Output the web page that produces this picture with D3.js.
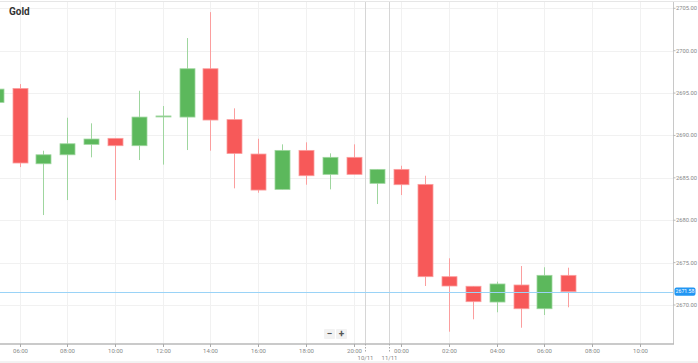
<!DOCTYPE html>
<meta charset="utf-8">
<style>
  body { margin: 0; background: #fff; }
  svg { display: block; font-family: Roboto, "Liberation Sans", Arial, sans-serif; }
  .grid line { stroke: #f1f1f1; stroke-width: 1; }
  .ylab { font-size: 5.8px; fill: #888; }
  .xlab { font-size: 6px; fill: #888; }
  .title { font-size: 10px; font-weight: bold; fill: #333; }
</style>
<body>
<div id="chart"></div>
<script src="https://d3js.org/d3.v7.min.js"></script>
<script>
// hourly candles, index 0 = 05:00 (Fri), index 17 = 00:00 (Mon)
var hours  = ["05:00","06:00","07:00","08:00","09:00","10:00","11:00","12:00","13:00","14:00","15:00","16:00","17:00","18:00","19:00","20:00","21:00","00:00","01:00","02:00","03:00","04:00","05:00","06:00","07:00"];
var opens  = [2693.9,2695.55,2686.66,2687.72,2688.95,2689.66,2688.79,2692.21,2692.17,2697.87,2691.87,2687.81,2683.64,2688.24,2685.41,2687.42,2684.35,2686.00,2684.23,2673.34,2672.21,2670.35,2672.36,2669.56,2673.50];
var highs  = [2696.0,2696.06,2688.20,2692.09,2691.43,2689.66,2695.27,2693.47,2701.49,2704.55,2693.20,2689.61,2688.95,2689.19,2687.89,2688.95,2686.00,2686.43,2685.25,2675.51,2672.21,2672.75,2674.60,2674.45,2674.40];
var lows   = [2693.5,2686.27,2680.61,2682.38,2687.42,2682.38,2687.10,2686.56,2688.28,2688.20,2683.76,2683.24,2683.64,2684.19,2683.64,2685.41,2681.91,2682.97,2672.24,2666.85,2668.31,2669.14,2667.32,2668.82,2669.73];
var closes = [2695.47,2686.75,2687.72,2689.02,2689.58,2688.79,2692.17,2692.30,2697.87,2691.82,2687.87,2683.56,2688.24,2685.25,2687.42,2685.41,2686.00,2684.19,2673.34,2672.24,2670.39,2672.48,2669.56,2673.50,2671.58];

var tickSlots  = [1,3,5,7,9,11,13,15,17,19,21,23,25,27];
var tickLabels = ["06:00","08:00","10:00","12:00","14:00","16:00","18:00","20:00","00:00","02:00","04:00","06:00","08:00","10:00"];
var dateSlots  = [15.5,16.5];
var dateLabels = ["10/11","11/11"];
var yTicks = [2670,2675,2680,2685,2690,2695,2700,2705];
var lastPrice = 2671.58;

var width = 698, height = 363;
var plotRight = 673, axisY = 344;

var x = d3.scaleLinear().domain([1, 24]).range([19.5, 568.3]);
var y = d3.scaleLinear().domain([2670, 2705]).range([305, 8.3]);

var up = "#5cb85c", upLight = "#9fd69f";
var down = "#f75959", downLight = "#fb9e9e";

var svg = d3.select("#chart").append("svg")
    .attr("width", width)
    .attr("height", height);

svg.append("defs").append("clipPath").attr("id", "plot")
  .append("rect").attr("x", 0).attr("y", 2).attr("width", plotRight).attr("height", axisY - 2);

// frame lines
svg.append("line").attr("x1", 0).attr("x2", width).attr("y1", 1.5).attr("y2", 1.5)
    .attr("stroke", "#e6e6e6");
svg.append("line").attr("x1", 0).attr("x2", width).attr("y1", 362).attr("y2", 362)
    .attr("stroke", "#e6e6e6");

// grid
var grid = svg.append("g").attr("class", "grid").attr("clip-path", "url(#plot)");
grid.selectAll(".h").data(yTicks).enter().append("line")
    .attr("x1", 0).attr("x2", plotRight)
    .attr("y1", function(d) { return Math.round(y(d)) + 0.5; })
    .attr("y2", function(d) { return Math.round(y(d)) + 0.5; });
grid.selectAll(".v").data(tickSlots).enter().append("line")
    .attr("y1", 2).attr("y2", axisY)
    .attr("x1", function(d) { return Math.round(x(d)) + 0.5; })
    .attr("x2", function(d) { return Math.round(x(d)) + 0.5; });

// day separators
svg.selectAll(".sep").data(dateSlots).enter().append("line")
    .attr("y1", 2).attr("y2", axisY)
    .attr("x1", function(d) { return Math.round(x(d)) + 0.5; })
    .attr("x2", function(d) { return Math.round(x(d)) + 0.5; })
    .attr("stroke", "#d6d6d6");

// title
svg.append("text").attr("class", "title").attr("x", 9).attr("y", 15).text("Gold");

// candles
var candles = svg.append("g").attr("clip-path", "url(#plot)")
  .selectAll("g").data(hours).enter().append("g");

candles.append("line")
    .attr("x1", function(d, i) { return Math.round(x(i)) + 0.5; })
    .attr("x2", function(d, i) { return Math.round(x(i)) + 0.5; })
    .attr("y1", function(d, i) { return y(highs[i]); })
    .attr("y2", function(d, i) { return y(lows[i]); })
    .attr("stroke", function(d, i) { return closes[i] >= opens[i] ? upLight : downLight; })
    .attr("stroke-width", 1);

candles.append("rect")
    .attr("x", function(d, i) { return Math.round(x(i)) - 7; })
    .attr("width", 15)
    .attr("y", function(d, i) { return y(Math.max(opens[i], closes[i])); })
    .attr("height", function(d, i) { return Math.max(1, Math.abs(y(opens[i]) - y(closes[i]))); })
    .attr("fill", function(d, i) { return closes[i] >= opens[i] ? up : down; })
    .attr("stroke", function(d, i) { return closes[i] >= opens[i] ? upLight : downLight; })
    .attr("stroke-width", 0.8);

// last price line
svg.append("line")
    .attr("x1", 0).attr("x2", plotRight)
    .attr("y1", Math.round(y(lastPrice)) + 0.5).attr("y2", Math.round(y(lastPrice)) + 0.5)
    .attr("stroke", "#9ad3f7").attr("stroke-width", 1);

// right axis
svg.append("line").attr("x1", plotRight + 0.5).attr("x2", plotRight + 0.5)
    .attr("y1", 2).attr("y2", axisY).attr("stroke", "#c8c8c8").attr("stroke-width", 1);

var ya = svg.append("g").selectAll("g").data(yTicks).enter().append("g")
    .attr("transform", function(d) { return "translate(0," + y(d) + ")"; });
ya.append("line").attr("x1", plotRight).attr("x2", plotRight + 2.5).attr("stroke", "#bbb");
ya.append("text").attr("class", "ylab").attr("x", 676).attr("dy", "0.35em")
    .text(function(d) { return d3.format(".2f")(d); });

var tag = svg.append("g").attr("transform", "translate(0," + y(lastPrice) + ")");
tag.append("rect").attr("x", 674.5).attr("y", -4.2).attr("width", 21).attr("height", 8.4)
    .attr("rx", 2).attr("fill", "#2196f3");
tag.append("text").attr("x", 685).attr("dy", "0.35em").attr("text-anchor", "middle")
    .attr("font-size", "5.2px").attr("fill", "#fff").text(d3.format(".2f")(lastPrice));

// bottom axis
svg.append("line").attr("x1", 0).attr("x2", plotRight + 1)
    .attr("y1", axisY).attr("y2", axisY).attr("stroke", "#b9b9b9").attr("stroke-width", 1.5);

var xa = svg.append("g").selectAll("g").data(tickSlots).enter().append("g")
    .attr("transform", function(d) { return "translate(" + (Math.round(x(d)) + 0.5) + "," + axisY + ")"; });
xa.append("line").attr("y1", 0).attr("y2", 3).attr("stroke", "#aaa");
xa.append("text").attr("class", "xlab").attr("y", 8.5).attr("text-anchor", "middle")
    .text(function(d, i) { return tickLabels[i]; });

var da = svg.append("g").selectAll("g").data(dateSlots).enter().append("g")
    .attr("transform", function(d) { return "translate(" + (Math.round(x(d)) + 0.5) + "," + axisY + ")"; });
da.append("line").attr("y1", 0).attr("y2", 9).attr("stroke", "#aaa").attr("stroke-dasharray", "1.5,1.5");
da.append("text").attr("class", "xlab").attr("y", 16).attr("text-anchor", "middle")
    .text(function(d, i) { return dateLabels[i]; });

// zoom buttons
var zb = svg.append("g").attr("transform", "translate(324,329)");
zb.append("rect").attr("x", 0).attr("y", 0).attr("width", 11).attr("height", 10).attr("fill", "#f2f2f2").attr("rx", 1);
zb.append("rect").attr("x", 12).attr("y", 0).attr("width", 11).attr("height", 10).attr("fill", "#f2f2f2").attr("rx", 1);
zb.append("text").attr("x", 5.5).attr("y", 8).attr("text-anchor", "middle").attr("font-size", "10px")
    .attr("font-weight", "bold").attr("fill", "#555").text("−");
zb.append("text").attr("x", 17.5).attr("y", 8).attr("text-anchor", "middle").attr("font-size", "10px")
    .attr("font-weight", "bold").attr("fill", "#555").text("+");
</script>
</body>
</html>
